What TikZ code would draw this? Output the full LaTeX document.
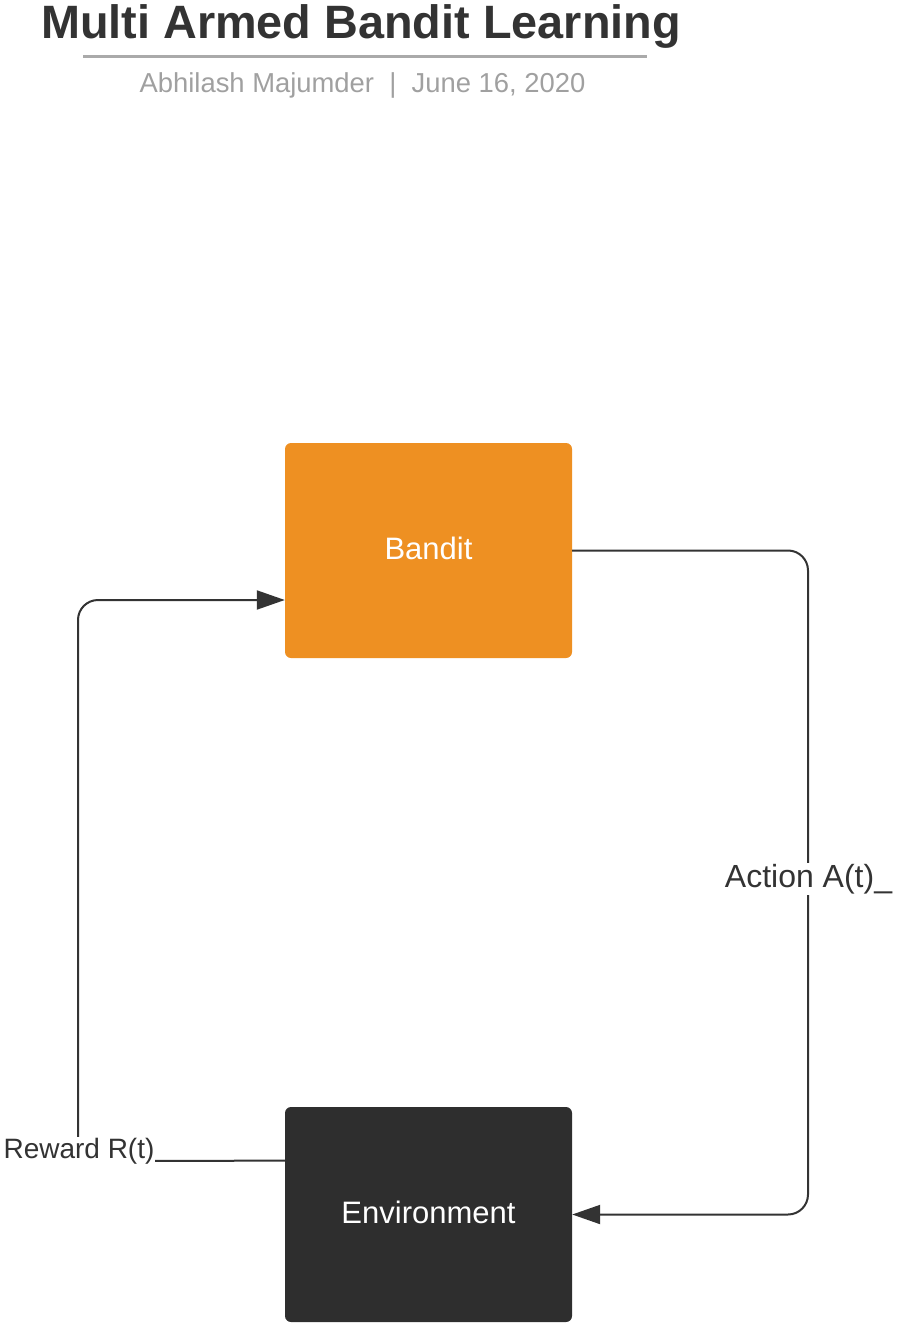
\documentclass[tikz,border=0pt]{standalone}
\usepackage{fontspec}
\setmainfont{Liberation Sans}
\usetikzlibrary{arrows.meta,calc}
\definecolor{bandorange}{RGB}{238,144,34}
\definecolor{envdark}{RGB}{46,46,46}
\definecolor{inkgray}{RGB}{51,51,51}
\definecolor{subgray}{RGB}{160,160,160}
\definecolor{rulegray}{RGB}{170,170,170}
\tikzset{
  box/.style={minimum width=287pt, minimum height=215pt, rounded corners=6pt, inner sep=0pt, text=white, font=\fontsize{31}{36}\selectfont},
  conn/.style={draw=inkgray, line width=2pt, rounded corners=20pt},
  tip/.style={-{Triangle[length=28pt,width=19pt]}},
  lbl/.style={fill=white, text=inkgray, inner sep=1pt, font=\fontsize{30}{34}\selectfont},
}
\begin{document}
\begin{tikzpicture}[x=1pt,y=-1pt]
\useasboundingbox (0,0) rectangle (900,1329);
% title
\node[text=inkgray, anchor=base, inner sep=0pt, font=\fontsize{46.8}{52}\selectfont\bfseries] (title) at (361,39) {Multi Armed Bandit Learning};
\draw[rulegray, line width=3pt] (83,57) coordinate (u1) -- (647,57) coordinate (u2);
\node[text=subgray, anchor=base, inner sep=0pt, font=\fontsize{27.4}{31}\selectfont] (sub) at (362.5,93) {Abhilash Majumder\ \ |\ \ June 16, 2020};
% boxes
\node[box, fill=bandorange] (bandit) at (428.5,550.5) {\raisebox{5pt}{Bandit}};
\node[box, fill=envdark] (env) at (428.5,1214.5) {\raisebox{5pt}{Environment}};
% action connector
\coordinate (a1) at (808,550.5);
\coordinate (a2) at (808,1214.5);
\draw[conn, tip] (bandit.east) -- (a1) -- (a2) -- (env.east);
\node[lbl, font=\fontsize{32}{36}\selectfont] (act) at (808.5,879) {Action A(t)\_};
% reward connector
\coordinate (r0) at ($(env.north west)!0.25!(env.south west)$);
\coordinate (r1) at (78,1161);
\coordinate (r2) at (78,600);
\draw[conn, tip] (r0) -- (r1) -- (r2) -- (bandit.west |- r2);
\node[lbl, font=\fontsize{28}{32}\selectfont] (rew) at (79,1151) {Reward R(t)};
\end{tikzpicture}
\end{document}
